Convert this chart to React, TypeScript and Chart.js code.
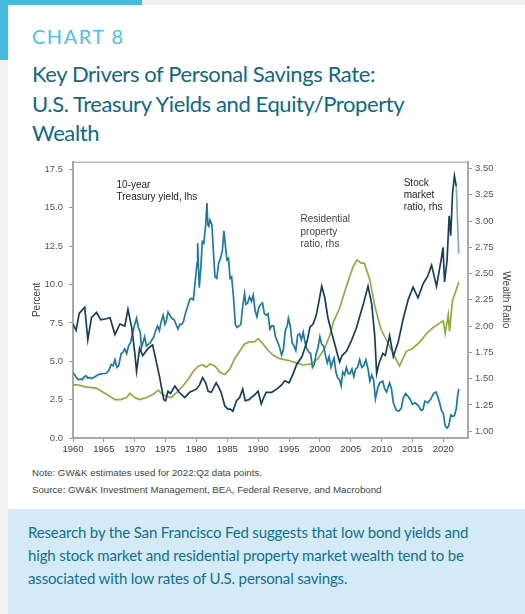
import React, { useEffect, useRef } from "react";
import { Chart, registerables } from "chart.js";

Chart.register(...registerables);

// ---------- Data ----------
const xTickYears = [1960, 1965, 1970, 1975, 1980, 1985, 1990, 1995, 2000, 2005, 2010, 2015, 2020];
const leftTicks = [0, 2.5, 5, 7.5, 10, 12.5, 15, 17.5];
const rightTicks = [1.0, 1.25, 1.5, 1.75, 2.0, 2.25, 2.5, 2.75, 3.0, 3.25, 3.5];

const treasuryYears = [
  1960.0, 1960.3, 1960.6, 1960.9, 1961.2, 1961.5, 1961.8, 1962.1, 1962.4, 1962.7,
  1963.0, 1963.4, 1963.8, 1964.2, 1964.6, 1965.0, 1965.4, 1965.8, 1966.2, 1966.5,
  1966.8, 1967.1, 1967.4, 1967.8, 1968.1, 1968.4, 1968.7, 1969.0, 1969.3, 1969.6,
  1970.0, 1970.3, 1970.6, 1970.9, 1971.1, 1971.4, 1971.6, 1971.9, 1972.2, 1972.5,
  1972.8, 1973.1, 1973.4, 1973.7, 1974.0, 1974.3, 1974.6, 1974.9, 1975.1, 1975.4,
  1975.7, 1976.0, 1976.4, 1976.8, 1977.0, 1977.3, 1977.6, 1977.9, 1978.2, 1978.6,
  1978.9, 1979.2, 1979.5, 1979.8, 1980.1, 1980.2, 1980.45, 1980.7, 1980.95, 1981.2,
  1981.5, 1981.7, 1981.85, 1982.0, 1982.2, 1982.5, 1982.8, 1983.0, 1983.3, 1983.6,
  1983.9, 1984.2, 1984.45, 1984.7, 1984.95, 1985.2, 1985.45, 1985.7, 1986.0, 1986.3,
  1986.6, 1986.9, 1987.2, 1987.5, 1987.8, 1988.0, 1988.3, 1988.6, 1988.9, 1989.2,
  1989.5, 1989.8, 1990.1, 1990.4, 1990.7, 1991.0, 1991.3, 1991.6, 1991.9, 1992.2,
  1992.5, 1992.8, 1993.1, 1993.4, 1993.8, 1994.1, 1994.4, 1994.7, 1994.9, 1995.2,
  1995.5, 1995.8, 1996.1, 1996.4, 1996.7, 1997.0, 1997.3, 1997.6, 1997.9, 1998.2,
  1998.5, 1998.8, 1999.1, 1999.4, 1999.7, 2000.0, 2000.3, 2000.6, 2000.9, 2001.2,
  2001.5, 2001.8, 2002.1, 2002.3, 2002.6, 2002.9, 2003.2, 2003.45, 2003.7, 2004.0,
  2004.3, 2004.6, 2004.9, 2005.2, 2005.5, 2005.8, 2006.1, 2006.45, 2006.8, 2007.1,
  2007.45, 2007.8, 2008.1, 2008.4, 2008.7, 2009.0, 2009.4, 2009.7, 2010.2, 2010.5,
  2010.8, 2011.3, 2011.6, 2011.9, 2012.4, 2012.8, 2013.2, 2013.5, 2013.9, 2014.3,
  2014.6, 2015.0, 2015.4, 2015.7, 2016.0, 2016.4, 2016.7, 2017.0, 2017.5, 2018.0,
  2018.4, 2018.8, 2019.1, 2019.4, 2019.7, 2020.0, 2020.3, 2020.6, 2020.9, 2021.2,
  2021.5, 2021.8, 2022.1, 2022.3, 2022.5,
];
const treasuryValues = [
  4.25, 4.1, 3.9, 3.8, 3.85, 3.8, 3.98, 4.05, 3.9, 3.95,
  3.88, 3.95, 4.05, 4.15, 4.18, 4.2, 4.22, 4.4, 4.8, 4.7,
  5.1, 4.6, 4.7, 5.5, 5.6, 5.8, 5.5, 6.0, 6.2, 6.7,
  7.4, 7.8, 7.2, 6.9, 5.9, 6.3, 6.6, 6.0, 6.1, 6.2,
  6.4, 6.6, 7.0, 7.3, 7.0, 7.6, 8.0, 7.4, 7.6, 8.2,
  8.0, 7.8, 7.7, 7.3, 7.1, 7.4, 7.4, 7.6, 8.1, 8.6,
  9.0, 9.1, 9.0, 10.2, 11.4, 12.7, 9.8, 11.0, 12.8, 12.7,
  13.9, 15.3, 13.9, 13.8, 14.2, 13.9, 11.8, 10.5, 10.4, 11.4,
  11.7, 12.2, 13.5, 12.5, 11.6, 11.7, 10.4, 10.5, 9.2, 7.4,
  7.2, 7.3, 7.4, 8.6, 9.4, 8.7, 8.8, 9.2, 8.9, 9.3,
  8.3, 7.9, 8.5, 8.7, 8.8, 8.1, 8.0, 8.1, 7.1, 7.3,
  7.3, 6.6, 6.3, 6.0, 5.4, 5.8, 7.0, 7.3, 7.8, 7.3,
  6.2, 6.0, 5.7, 6.7, 6.8, 6.4, 6.9, 6.2, 5.8, 5.6,
  5.5, 4.6, 4.8, 5.5, 5.9, 6.6, 6.1, 6.0, 5.4, 4.9,
  5.3, 4.6, 5.0, 5.2, 4.3, 3.9, 3.8, 3.4, 4.3, 4.1,
  4.6, 4.2, 4.2, 4.5, 4.0, 4.5, 4.6, 5.1, 4.6, 4.7,
  5.1, 4.5, 3.7, 4.1, 3.8, 2.55, 3.3, 3.6, 3.7, 3.2,
  3.0, 3.6, 3.2, 2.3, 1.8, 1.75, 1.95, 2.6, 2.9, 2.7,
  2.55, 2.2, 2.3, 2.2, 2.1, 1.8, 1.85, 2.4, 2.3, 2.55,
  2.9, 3.0, 2.7, 2.3, 1.8, 1.6, 0.8, 0.65, 0.8, 1.5,
  1.4, 1.45, 1.9, 2.7, 3.2,
];

const stockYears = [
  1960.0, 1960.5, 1961.0, 1961.9, 1962.4, 1963.0, 1963.8, 1964.5, 1965.4, 1966.0,
  1966.8, 1967.6, 1968.4, 1968.9, 1969.5, 1970.0, 1970.3, 1970.8, 1971.3, 1972.2,
  1972.9, 1973.5, 1974.05, 1974.7, 1975.0, 1975.4, 1975.8, 1976.5, 1977.2, 1978.1,
  1978.9, 1980.0, 1980.5, 1981.0, 1981.5, 1981.9, 1982.4, 1983.2, 1983.6, 1984.0,
  1984.6, 1985.1, 1985.5, 1985.9, 1986.5, 1987.0, 1987.5, 1987.9, 1988.5, 1989.5,
  1990.0, 1990.5, 1990.9, 1991.3, 1992.2, 1993.0, 1993.8, 1994.3, 1995.0, 1995.7,
  1996.2, 1997.1, 1997.9, 1998.4, 1998.9, 1999.4, 1999.7, 2000.3, 2000.8, 2001.3,
  2001.9, 2002.4, 2002.9, 2003.2, 2003.6, 2004.3, 2005.1, 2005.9, 2006.5, 2007.0,
  2007.4, 2007.8, 2008.4, 2008.9, 2009.2, 2009.6, 2010.2, 2010.6, 2011.3, 2011.9,
  2012.7, 2013.5, 2014.3, 2015.1, 2015.9, 2016.7, 2017.5, 2018.1, 2018.9, 2019.7,
  2019.95, 2020.2, 2020.6, 2020.95, 2021.2, 2021.5, 2021.8, 2022.1, 2022.5,
];
const stockValues = [
  2.02, 1.96, 2.12, 2.18, 1.87, 2.08, 2.13, 2.06, 2.07, 2.08,
  1.92, 2.02, 2.0, 2.16, 1.99, 1.75, 1.57, 1.79, 1.72, 1.79,
  1.82, 1.66, 1.51, 1.3, 1.29, 1.38, 1.36, 1.43, 1.37, 1.32,
  1.37, 1.4, 1.44, 1.51, 1.46, 1.38, 1.37, 1.46, 1.42, 1.37,
  1.24, 1.21, 1.21, 1.19, 1.29, 1.32, 1.4, 1.29, 1.3, 1.35,
  1.38, 1.26, 1.32, 1.37, 1.37, 1.4, 1.44, 1.48, 1.46, 1.55,
  1.63, 1.71, 1.85, 1.99, 2.02, 2.1, 2.19, 2.38, 2.27, 2.08,
  1.94, 1.83, 1.72, 1.66, 1.72, 1.76, 1.86, 1.98, 2.1, 2.2,
  2.29, 2.38, 2.21, 1.9, 1.55, 1.65, 1.74, 1.72, 1.91, 1.71,
  1.85, 2.07, 2.25, 2.37, 2.27, 2.4, 2.48, 2.58, 2.38, 2.65,
  2.75, 2.42, 2.62, 3.05, 2.86, 3.27, 3.43, 3.33, 2.69,
];

const propertyYears = [
  1960.0, 1960.8, 1962.2, 1963.8, 1964.9, 1966.0, 1966.8, 1967.7, 1968.7, 1969.2,
  1970.0, 1970.8, 1971.9, 1973.0, 1973.8, 1974.3, 1975.1, 1975.9, 1976.8, 1977.8,
  1978.6, 1979.5, 1980.3, 1981.1, 1981.6, 1982.2, 1983.0, 1983.8, 1984.6, 1985.4,
  1986.2, 1987.0, 1987.8, 1988.6, 1989.4, 1990.0, 1990.8, 1991.6, 1992.5, 1993.5,
  1995.1, 1996.2, 1997.3, 1998.6, 1999.7, 2000.8, 2001.6, 2002.2, 2003.2, 2004.3,
  2005.4, 2006.0, 2006.7, 2007.2, 2008.1, 2008.9, 2009.9, 2011.2, 2012.3, 2012.9,
  2014.0, 2015.1, 2016.2, 2017.3, 2018.4, 2019.7, 2020.0, 2020.3, 2020.8, 2021.0,
  2021.5, 2022.0, 2022.5,
];
const propertyValues = [
  1.44, 1.44, 1.42, 1.41, 1.37, 1.33, 1.3, 1.3, 1.32, 1.36,
  1.32, 1.3, 1.32, 1.35, 1.39, 1.36, 1.33, 1.32, 1.37, 1.43,
  1.49, 1.57, 1.62, 1.63, 1.61, 1.64, 1.62, 1.56, 1.54, 1.59,
  1.69, 1.76, 1.83, 1.85, 1.85, 1.88, 1.83, 1.77, 1.72, 1.69,
  1.67, 1.65, 1.63, 1.64, 1.69, 1.79, 1.91, 2.04, 2.17, 2.38,
  2.57, 2.63, 2.6, 2.6, 2.44, 2.19, 1.97, 1.82, 1.69, 1.62,
  1.76, 1.79, 1.85, 1.93, 1.99, 2.04, 2.05, 1.93, 2.11, 1.95,
  2.25, 2.33, 2.42,
];

const toPoints = (xs: number[], ys: number[]) => xs.map((x, i) => ({ x, y: ys[i] }));

const TICK_FONT = { family: "'Liberation Sans', Arial, sans-serif", size: 9.5 };

const overlayPlugin = {
  id: "overlay",
  afterDraw(chart: any) {
    const { ctx, chartArea } = chart;
    const { left, right, top, bottom } = chartArea;
    ctx.save();
    // top border
    ctx.strokeStyle = "#9a9a9a";
    ctx.lineWidth = 1;
    ctx.beginPath();
    ctx.moveTo(left, top + 0.5);
    ctx.lineTo(right, top + 0.5);
    ctx.stroke();

    // axis titles
    const midY = (top + bottom) / 2;
    ctx.fillStyle = "#444";
    ctx.font = "10px 'Liberation Sans', Arial, sans-serif";
    ctx.textAlign = "center";
    ctx.textBaseline = "middle";
    ctx.save();
    ctx.translate(left - 36, midY);
    ctx.rotate(-Math.PI / 2);
    ctx.fillText("Percent", 0, 0);
    ctx.restore();
    ctx.save();
    ctx.translate(right + 38, midY);
    ctx.rotate(Math.PI / 2);
    ctx.fillText("Wealth Ratio", 0, 0);
    ctx.restore();

    // annotations
    ctx.textAlign = "left";
    ctx.font = "10px 'Liberation Sans', Arial, sans-serif";
    const notes: [string, number, number, string][] = [
      ["10-year", left + 43.5, top + 23.7, "#1e1e1e"],
      ["Treasury yield, lhs", left + 43.5, top + 35.7, "#1e1e1e"],
      ["Residential", left + 227.5, top + 58, "#3c4238"],
      ["property", left + 227.5, top + 70.5, "#3c4238"],
      ["ratio, rhs", left + 227.5, top + 83, "#3c4238"],
      ["Stock", left + 330.7, top + 21.3, "#1e1e1e"],
      ["market", left + 330.7, top + 33.3, "#1e1e1e"],
      ["ratio, rhs", left + 330.7, top + 45.3, "#1e1e1e"],
    ];
    notes.forEach(([t, x, y, c]) => {
      ctx.fillStyle = c;
      ctx.fillText(t, x, y);
    });
    ctx.restore();
  },
};

function ChartCanvas() {
  const ref = useRef<HTMLCanvasElement | null>(null);
  useEffect(() => {
    if (!ref.current) return;
    const lastStock = stockValues.length - 1;
    const chart = new Chart(ref.current, {
      type: "line",
      data: {
        datasets: [
          {
            label: "Stock market ratio, rhs",
            data: toPoints(stockYears, stockValues),
            yAxisID: "y1",
            borderColor: "#163f5e",
            borderWidth: 1.7,
            pointRadius: 0,
            tension: 0,
            segment: {
              borderColor: (c: any) => (c.p1DataIndex === lastStock ? "#86a9bd" : undefined),
            },
          },
          {
            label: "10-year Treasury yield, lhs",
            data: toPoints(treasuryYears, treasuryValues),
            yAxisID: "y",
            borderColor: "#1a7b9d",
            borderWidth: 1.7,
            pointRadius: 0,
            tension: 0,
          },
          {
            label: "Residential property ratio, rhs",
            data: toPoints(propertyYears, propertyValues),
            yAxisID: "y1",
            borderColor: "#8cae3e",
            borderWidth: 1.7,
            pointRadius: 0,
            tension: 0,
          },
        ],
      },
      options: {
        animation: false,
        responsive: false,
        events: [],
        layout: { padding: { top: 7, left: 0, right: 0, bottom: 0 } },
        plugins: { legend: { display: false }, tooltip: { enabled: false }, title: { display: false } },
        scales: {
          x: {
            type: "linear",
            min: 1960,
            max: 2024,
            afterBuildTicks: (s: any) => {
              s.ticks = xTickYears.map((v) => ({ value: v }));
            },
            afterFit: (s: any) => {
              s.height = 24;
            },
            ticks: {
              callback: (v: any) => String(v),
              font: TICK_FONT,
              color: "#3a3a3a",
              padding: 2,
              autoSkip: false,
              maxRotation: 0,
            },
            grid: { drawOnChartArea: false, drawTicks: true, tickLength: 4, tickColor: "#9a9a9a" },
            border: { display: true, color: "#a8a8a8", width: 2 },
          },
          y: {
            type: "linear",
            position: "left",
            min: 0,
            max: 18,
            afterBuildTicks: (s: any) => {
              s.ticks = leftTicks.map((v) => ({ value: v }));
            },
            afterFit: (s: any) => {
              s.width = 73;
            },
            ticks: {
              callback: (v: any) => Number(v).toFixed(1),
              font: TICK_FONT,
              color: "#555",
              padding: 6,
            },
            grid: { drawOnChartArea: false, drawTicks: true, tickLength: 4, tickColor: "#9a9a9a" },
            border: { display: true, color: "#a8a8a8", width: 2 },
          },
          y1: {
            type: "linear",
            position: "right",
            min: 0.935,
            max: 3.565,
            afterBuildTicks: (s: any) => {
              s.ticks = rightTicks.map((v) => ({ value: v }));
            },
            afterFit: (s: any) => {
              s.width = 57;
            },
            ticks: {
              callback: (v: any) => Number(v).toFixed(2),
              font: TICK_FONT,
              color: "#555",
              padding: 3,
            },
            grid: { drawOnChartArea: false, drawTicks: true, tickLength: 4, tickColor: "#9a9a9a" },
            border: { display: true, color: "#a8a8a8", width: 2 },
          },
        },
      },
      plugins: [overlayPlugin],
    } as any);
    return () => chart.destroy();
  }, []);
  return (
    <canvas
      ref={ref}
      width={525}
      height={312}
      style={{ position: "absolute", left: 0, top: 150, width: 525, height: 312 }}
    />
  );
}

export default function App() {
  return (
    <div
      style={{
        position: "absolute",
        left: 0,
        top: 0,
        width: 525,
        height: 614,
        background: "#f1f1f1",
        overflow: "hidden",
      }}
    >
      <div style={{ position: "absolute", left: 8, top: 5, width: 517, height: 504, background: "#fff" }} />
      <div style={{ position: "absolute", left: 0, top: 0, width: 142, height: 5, background: "#46bbdd" }} />
      <div style={{ position: "absolute", left: 0, top: 0, width: 8, height: 60, background: "#46bbdd" }} />
      <div
        style={{
          position: "absolute",
          left: 32,
          top: 26,
          fontFamily: "Lato, sans-serif",
          fontSize: 20,
          lineHeight: "20px",
          letterSpacing: 1.5,
          color: "#4fc1e4",
          whiteSpace: "nowrap",
        }}
      >
        CHART 8
      </div>
      <div
        style={{
          position: "absolute",
          left: 32,
          top: 59,
          fontFamily: "Lato, sans-serif",
          fontSize: 22,
          lineHeight: "29.5px",
          letterSpacing: -0.4,
          color: "#0e6984",
          whiteSpace: "nowrap",
        }}
      >
        Key Drivers of Personal Savings Rate:
        <br />
        U.S. Treasury Yields and Equity/Property
        <br />
        Wealth
      </div>
      <ChartCanvas />
      <div
        style={{
          position: "absolute",
          left: 32,
          top: 465,
          fontFamily: "'Liberation Sans', Arial, sans-serif",
          fontSize: 9.7,
          lineHeight: "16.7px",
          color: "#444",
          whiteSpace: "nowrap",
        }}
      >
        Note: GW&amp;K estimates used for 2022:Q2 data points.
        <br />
        Source: GW&amp;K Investment Management, BEA, Federal Reserve, and Macrobond
      </div>
      <div style={{ position: "absolute", left: 8, top: 509, width: 517, height: 105, background: "#d4eaf7" }} />
      <div
        style={{
          position: "absolute",
          left: 28,
          top: 521,
          fontFamily: "Lato, sans-serif",
          fontSize: 15,
          lineHeight: "23px",
          letterSpacing: -0.15,
          color: "#12708c",
          whiteSpace: "nowrap",
        }}
      >
        Research by the San Francisco Fed suggests that low bond yields and
        <br />
        high stock market and residential property market wealth tend to be
        <br />
        associated with low rates of U.S. personal savings.
      </div>
    </div>
  );
}
